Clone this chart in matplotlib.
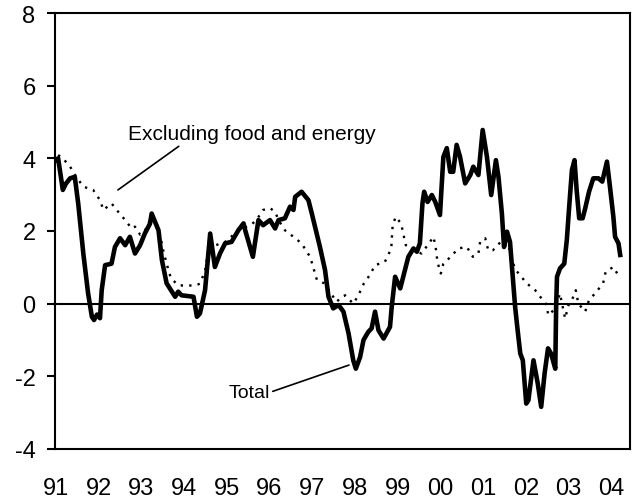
import matplotlib
matplotlib.use("Agg")
import matplotlib.pyplot as plt
import numpy as np

plt.rcParams["font.family"] = ["Liberation Sans", "DejaVu Sans"]

# total inflation, year-over-year %
total_year = [1991.00, 1991.05, 1991.16, 1991.23, 1991.33, 1991.44, 1991.52, 1991.64, 1991.75,
              1991.84, 1991.89, 1991.96, 1992.03, 1992.07, 1992.15, 1992.30, 1992.38, 1992.50,
              1992.62, 1992.73, 1992.85, 1992.97, 1993.08, 1993.20, 1993.24, 1993.40, 1993.48,
              1993.59, 1993.79, 1993.86, 1993.94, 1994.22, 1994.30, 1994.37, 1994.49, 1994.61,
              1994.72, 1994.84, 1994.96, 1995.11, 1995.27, 1995.39, 1995.43, 1995.61, 1995.74,
              1995.85, 1996.01, 1996.13, 1996.21, 1996.36, 1996.48, 1996.56, 1996.60, 1996.75,
              1996.91, 1996.99, 1997.18, 1997.30, 1997.38, 1997.49, 1997.61, 1997.65, 1997.73,
              1997.85, 1997.96, 1998.02, 1998.12, 1998.20, 1998.31, 1998.39, 1998.47, 1998.55,
              1998.67, 1998.82, 1998.86, 1998.94, 1999.06, 1999.17, 1999.25, 1999.37, 1999.45,
              1999.52, 1999.58, 1999.62, 1999.70, 1999.80, 1999.88, 1999.99, 2000.07, 2000.15,
              2000.23, 2000.30, 2000.38, 2000.46, 2000.58, 2000.70, 2000.77, 2000.89, 2000.99,
              2001.09, 2001.19, 2001.30, 2001.36, 2001.44, 2001.49, 2001.56, 2001.63, 2001.70,
              2001.75, 2001.80, 2001.87, 2001.93, 2002.01, 2002.06, 2002.18, 2002.28, 2002.36,
              2002.44, 2002.52, 2002.59, 2002.69, 2002.71, 2002.73, 2002.80, 2002.90, 2002.96,
              2003.01, 2003.08, 2003.14, 2003.19, 2003.25, 2003.33, 2003.39, 2003.48, 2003.58,
              2003.70, 2003.79, 2003.90, 2003.97, 2004.05, 2004.09, 2004.17, 2004.21]
total_val = [3.95, 4.00, 3.13, 3.30, 3.45, 3.49, 2.76, 1.38, 0.30,
             -0.36, -0.45, -0.30, -0.40, 0.37, 1.06, 1.10, 1.56, 1.80,
             1.61, 1.84, 1.38, 1.61, 1.93, 2.20, 2.48, 2.02, 1.20,
             0.56, 0.19, 0.33, 0.23, 0.19, -0.36, -0.27, 0.37, 1.93,
             1.01, 1.38, 1.66, 1.70, 2.02, 2.21, 2.02, 1.29, 2.30,
             2.16, 2.30, 2.07, 2.30, 2.35, 2.67, 2.58, 2.94, 3.08,
             2.85, 2.48, 1.56, 0.92, 0.19, -0.13, -0.04, -0.09, -0.22,
             -0.82, -1.56, -1.79, -1.47, -1.00, -0.78, -0.68, -0.22, -0.73,
             -0.96, -0.64, -0.09, 0.74, 0.42, 0.92, 1.29, 1.52, 1.43,
             1.66, 2.76, 3.08, 2.80, 2.99, 2.80, 2.44, 4.04, 4.28,
             3.63, 3.63, 4.37, 4.04, 3.31, 3.54, 3.77, 3.54, 4.78,
             4.04, 2.99, 3.95, 3.49, 2.48, 1.56, 1.98, 1.70, 0.65,
             -0.09, -0.64, -1.37, -1.56, -2.75, -2.66, -1.56, -2.20, -2.84,
             -1.92, -1.23, -1.37, -1.79, -0.09, 0.74, 0.97, 1.10, 1.75,
             2.58, 3.68, 3.95, 3.13, 2.35, 2.35, 2.62, 3.08, 3.45,
             3.45, 3.36, 3.91, 3.22, 2.39, 1.84, 1.66, 1.34]

# excluding food and energy
core_year = [1991.05, 1991.16, 1991.33, 1991.47, 1991.64, 1991.87, 1992.03, 1992.11, 1992.30,
             1992.42, 1992.62, 1992.77, 1992.85, 1992.97, 1993.08, 1993.24, 1993.40, 1993.51,
             1993.59, 1993.69, 1993.86, 1993.97, 1994.14, 1994.26, 1994.37, 1994.49, 1994.61,
             1994.72, 1994.96, 1995.26, 1995.43, 1995.60, 1995.72, 1995.85, 1996.01, 1996.13,
             1996.21, 1996.36, 1996.56, 1996.75, 1996.85, 1996.95, 1997.11, 1997.28, 1997.57,
             1997.69, 1997.77, 1997.96, 1998.08, 1998.21, 1998.35, 1998.47, 1998.70, 1998.85,
             1998.88, 1998.95, 1999.08, 1999.13, 1999.19, 1999.40, 1999.56, 1999.84, 1999.90,
             1999.93, 2000.01, 2000.07, 2000.24, 2000.42, 2000.62, 2000.76, 2000.89, 2000.93,
             2001.05, 2001.12, 2001.23, 2001.38, 2001.50, 2001.58, 2001.67, 2001.77, 2002.02,
             2002.22, 2002.37, 2002.47, 2002.53, 2002.69, 2002.80, 2002.92, 2003.00, 2003.08,
             2003.17, 2003.23, 2003.39, 2003.48, 2003.62, 2003.81, 2003.87, 2004.05, 2004.21]
core_val = [4.09, 4.00, 3.77, 3.50, 3.22, 3.13, 2.85, 2.58, 2.76,
            2.58, 2.30, 2.07, 2.12, 1.90, 2.00, 2.40, 2.10, 1.47,
            1.10, 0.70, 0.51, 0.50, 0.50, 0.50, 0.55, 0.90, 1.80,
            1.60, 1.70, 2.00, 2.10, 2.20, 2.35, 2.58, 2.63, 2.53,
            2.30, 2.02, 1.84, 1.66, 1.47, 1.29, 0.65, 0.56, 0.05,
            0.19, 0.23, 0.00, 0.23, 0.56, 0.79, 1.06, 1.15, 1.52,
            2.12, 2.39, 2.21, 1.93, 1.61, 1.45, 1.38, 1.84, 1.47,
            1.15, 0.83, 1.10, 1.29, 1.52, 1.56, 1.29, 1.38, 1.70,
            1.80, 1.47, 1.47, 1.66, 1.75, 1.70, 1.20, 0.92, 0.56,
            0.37, 0.14, 0.00, -0.32, -0.13, 0.28, -0.41, -0.04, 0.10,
            0.37, 0.00, -0.22, 0.10, 0.28, 0.56, 0.88, 1.01, 0.69]

year_labels = ["91", "92", "93", "94", "95", "96", "97", "98", "99", "00", "01", "02", "03", "04"]
y_ticks = [-4, -2, 0, 2, 4, 6, 8]

fig = plt.figure(figsize=(6.33, 5.02), dpi=100)
ax = fig.add_axes([0.0869, 0.1036, 0.9084, 0.8685])

ax.axhline(0, color="black", lw=1.5, zorder=1)
ax.plot(core_year, core_val, color="black", lw=1.7, linestyle=(0, (1, 2.6)), zorder=2)
ax.plot(total_year, total_val, color="black", lw=3.3, solid_joinstyle="round", zorder=3)

ax.set_xlim(1990.977, 2004.44)
ax.set_ylim(-4, 8)
ax.set_yticks(y_ticks)
ax.set_yticklabels([str(v) for v in y_ticks])
ax.set_xticks(1991 + np.arange(len(year_labels)))
ax.set_xticklabels(year_labels)

ax.tick_params(axis="y", direction="out", length=6, width=1.5, labelsize=17, pad=8)
ax.tick_params(axis="x", length=0, labelsize=17, pad=20)
for s in ax.spines.values():
    s.set_linewidth(1.5)

ax.annotate("Excluding food and energy", xy=(1992.45, 3.13), xytext=(1992.69, 4.67),
            fontsize=15, ha="left", va="center",
            arrowprops=dict(arrowstyle="-", color="black", lw=1.2, shrinkA=0, shrinkB=0,
                            relpos=(0.22, 0.0)))
ax.annotate("Total", xy=(1997.86, -1.69), xytext=(1996.01, -2.44),
            fontsize=14, ha="right", va="center",
            arrowprops=dict(arrowstyle="-", color="black", lw=1.2, shrinkA=0, shrinkB=0,
                            relpos=(1.0, 0.5)))

fig.savefig("out.png", dpi=100)
